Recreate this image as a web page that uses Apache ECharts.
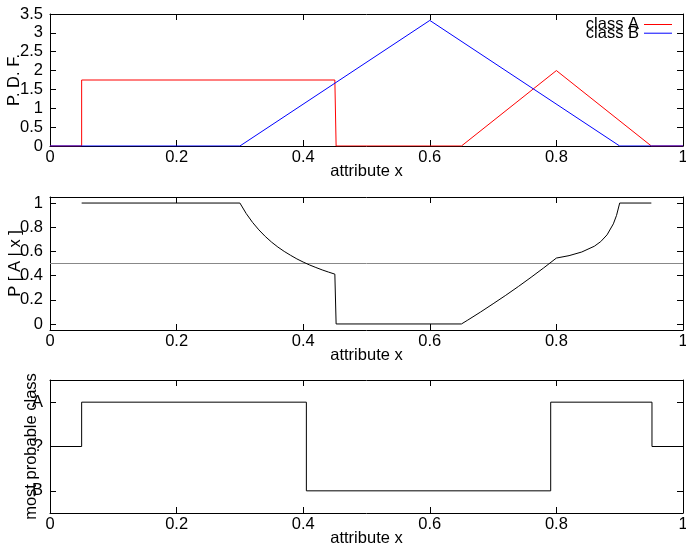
<!DOCTYPE html>
<html>
<head>
<meta charset="utf-8">
<script src="https://cdn.jsdelivr.net/npm/echarts@6/dist/echarts.min.js"></script>
<style>html,body{margin:0;padding:0;background:#fff}#c{width:686px;height:546px}</style>
</head>
<body>
<div id="c"></div>
<script>
// ---- data ----
const classA_pdf = [[0,0],[0.05,0],[0.05,1.75],[0.45,1.75],[0.452,0],[0.65,0],[0.8,2],[0.95,0],[1,0]];
const classB_pdf = [[0,0],[0.3,0],[0.6,3.33],[0.9,0],[1,0]];
const posteriorA = [
  [0.05,1],[0.30,1],[0.31,0.913],[0.32,0.840],[0.33,0.778],[0.34,0.724],[0.35,0.677],
  [0.36,0.636],[0.37,0.600],[0.38,0.568],[0.39,0.538],[0.40,0.512],[0.41,0.488],
  [0.42,0.467],[0.43,0.447],[0.44,0.429],[0.45,0.412],[0.452,0],[0.65,0],
  [0.66,0.032],[0.68,0.098],[0.70,0.167],[0.72,0.237],[0.74,0.310],[0.76,0.386],
  [0.78,0.464],[0.80,0.545],[0.82,0.565],[0.84,0.595],[0.86,0.643],[0.87,0.681],
  [0.88,0.737],[0.89,0.828],[0.895,0.898],[0.90,1],[0.95,1]
];
const threshold = [[0,0.5],[1,0.5]];
const classLevels = ['B','?','A'];
const decision = [[0,'?'],[0.05,'?'],[0.05,'A'],[0.405,'A'],[0.405,'B'],[0.791,'B'],[0.791,'A'],[0.951,'A'],[0.951,'?'],[1,'?']];
const posteriorTicks = [0,0.2,0.4,0.6,0.8,1];

const FONT = 'Liberation Sans, Arial, Helvetica, sans-serif';
const FS = 16.5;
const chart = echarts.init(document.getElementById('c'), null, {renderer:'canvas'});

const gridBase = {left:50, right:3, containLabel:false, outerBoundsMode:'none'};
const grids = [
  Object.assign({top:14, height:132}, gridBase),
  Object.assign({top:197, height:133}, gridBase),
  Object.assign({top:380, height:133}, gridBase)
];
const lineStyleAxis = {color:'#000', width:1};
function xAxes(i){
  return [
    {type:'value', gridIndex:i, min:0, max:1, interval:0.2, position:'bottom',
     name:'attribute x', nameLocation:'middle', nameGap:17, nameMoveOverlap:false,
     nameTextStyle:{fontFamily:FONT, fontSize:FS, color:'#000', lineHeight:16},
     axisLine:{show:true, onZero:false, lineStyle:lineStyleAxis},
     axisTick:{show:true, inside:true, length:6, lineStyle:lineStyleAxis},
     axisLabel:{fontFamily:FONT, fontSize:FS, color:'#000', margin:3, lineHeight:16},
     splitLine:{show:false}},
    {type:'value', gridIndex:i, min:0, max:1, interval:0.2, position:'top',
     axisLine:{show:true, onZero:false, lineStyle:lineStyleAxis},
     axisTick:{show:true, inside:true, length:6, lineStyle:lineStyleAxis},
     axisLabel:{show:false}, splitLine:{show:false}}
  ];
}
const yLabel = {fontFamily:FONT, fontSize:FS, color:'#000', margin:7};
const yName = {fontFamily:FONT, fontSize:FS, color:'#000', lineHeight:16};
const yAxes = [
  {type:'value', gridIndex:0, min:0, max:3.5, interval:0.5, position:'left',
   name:'P. D. F.', nameLocation:'middle', nameGap:28, nameMoveOverlap:false, nameTextStyle:yName,
   axisLine:{show:true, onZero:false, lineStyle:lineStyleAxis},
   axisTick:{show:true, inside:true, length:6, lineStyle:lineStyleAxis},
   axisLabel:yLabel, splitLine:{show:false}},
  {type:'value', gridIndex:0, min:0, max:3.5, interval:0.5, position:'right',
   axisLine:{show:true, onZero:false, lineStyle:lineStyleAxis},
   axisTick:{show:true, inside:true, length:6, lineStyle:lineStyleAxis},
   axisLabel:{show:false}, splitLine:{show:false}},
  {type:'value', gridIndex:1, min:-0.05, max:1.05, position:'left',
   name:'P [ A | x ]', nameLocation:'middle', nameGap:27, nameMoveOverlap:false, nameTextStyle:yName,
   axisLine:{show:true, onZero:false, lineStyle:lineStyleAxis},
   axisTick:{show:true, inside:true, length:6, lineStyle:lineStyleAxis, customValues:posteriorTicks},
   axisLabel:Object.assign({customValues:posteriorTicks}, yLabel), splitLine:{show:false}},
  {type:'value', gridIndex:1, min:-0.05, max:1.05, position:'right',
   axisLine:{show:true, onZero:false, lineStyle:lineStyleAxis},
   axisTick:{show:true, inside:true, length:6, lineStyle:lineStyleAxis, customValues:posteriorTicks},
   axisLabel:{show:false}, splitLine:{show:false}},
  {type:'category', gridIndex:2, data:classLevels, boundaryGap:true, position:'left',
   name:'most probable class', nameLocation:'middle', nameGap:11, nameMoveOverlap:false, nameTextStyle:yName,
   axisLine:{show:true, onZero:false, lineStyle:lineStyleAxis},
   axisTick:{show:true, inside:true, length:6, alignWithLabel:true, interval:0, lineStyle:lineStyleAxis},
   axisLabel:Object.assign({interval:0}, yLabel), splitLine:{show:false}},
  {type:'category', gridIndex:2, data:classLevels, boundaryGap:true, position:'right',
   axisLine:{show:true, onZero:false, lineStyle:lineStyleAxis},
   axisTick:{show:true, inside:true, length:6, alignWithLabel:true, interval:0, lineStyle:lineStyleAxis},
   axisLabel:{show:false}, splitLine:{show:false}}
];

function lineSeries(name, data, xi, yi, color){
  return {name:name, type:'line', data:data, xAxisIndex:xi, yAxisIndex:yi,
    symbol:'none', showSymbol:false, smooth:false, silent:true,
    lineStyle:{color:color, width:1}, itemStyle:{color:color}};
}

const option = {
  animation:false,
  backgroundColor:'#fff',
  textStyle:{fontFamily:FONT},
  grid:grids,
  xAxis:[].concat(xAxes(0), xAxes(1), xAxes(2)),
  yAxis:yAxes,
  legend:[
    {data:['class A'], right:14, top:16, padding:0, align:'right', icon:'rect',
     itemWidth:28, itemHeight:1, itemGap:0, selectedMode:false,
     textStyle:{fontFamily:FONT, fontSize:FS, color:'#000', lineHeight:16}},
    {data:['class B'], right:14, top:24.7, padding:0, align:'right', icon:'rect',
     itemWidth:28, itemHeight:1, itemGap:0, selectedMode:false,
     textStyle:{fontFamily:FONT, fontSize:FS, color:'#000', lineHeight:16}}
  ],
  series:[
    lineSeries('class A', classA_pdf, 0, 0, '#ff0000'),
    lineSeries('class B', classB_pdf, 0, 0, '#0000ff'),
    lineSeries('threshold', threshold, 2, 2, '#888888'),
    lineSeries('P(A|x)', posteriorA, 2, 2, '#000000'),
    lineSeries('decision', decision, 4, 4, '#000000')
  ]
};
chart.setOption(option);
</script>
</body>
</html>
